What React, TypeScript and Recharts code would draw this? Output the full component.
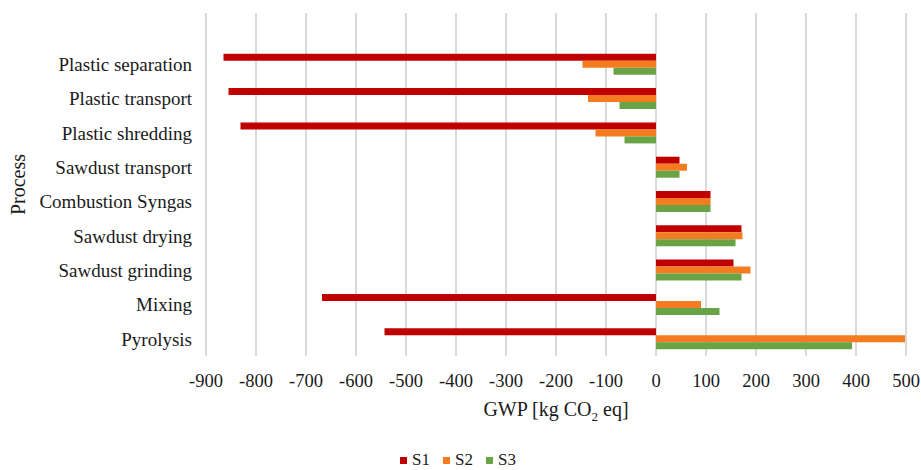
import React from "react"
import {
  BarChart,
  Bar,
  XAxis,
  YAxis,
  CartesianGrid,
  Legend,
  Label
} from "recharts"

// ── Data ──────────────────────────────────────────────────────────────────────
// The first (blank) row mirrors the empty category slot at the top of the plot.

const processes = [
  "",
  "Plastic separation",
  "Plastic transport",
  "Plastic shredding",
  "Sawdust transport",
  "Combustion Syngas",
  "Sawdust drying",
  "Sawdust grinding",
  "Mixing",
  "Pyrolysis"
]

const s1 = [null, -865, -855, -831, 47, 109, 171, 155, -668, -543]
const s2 = [null, -147, -136, -121, 62, 109, 173, 189, 90, 498]
const s3 = [null, -85, -73, -63, 47, 109, 159, 171, 127, 392]

const xTicks = [-900, -800, -700, -600, -500, -400, -300, -200, -100, 0, 100, 200, 300, 400, 500]

const data = processes.map((process, i) => ({
  process,
  S1: s1[i],
  S2: s2[i],
  S3: s3[i]
}))

// ── Style ─────────────────────────────────────────────────────────────────────

const COLORS = {
  S1: "#C00000",
  S2: "#F47B20",
  S3: "#6AA345",
  grid: "#d9d9d9",
  text: "#1a1a1a"
}

const FONT = "Liberation Serif, Noto Serif, DejaVu Serif, serif"

const xTitle = (props: any) => {
  const { viewBox } = props
  const cx = viewBox.x + viewBox.width / 2
  const y = viewBox.y + 60
  return (
    <text x={cx} y={y} textAnchor="middle" fontFamily={FONT} fontSize={20} fill={COLORS.text}>
      <tspan>GWP [kg CO</tspan>
      <tspan fontSize={13} dy={5}>2</tspan>
      <tspan dy={-5}> eq]</tspan>
    </text>
  )
}

const yTitle = (props: any) => {
  const { viewBox } = props
  const cy = viewBox.y + viewBox.height / 2
  const x = 25
  return (
    <text
      x={x}
      y={cy}
      transform={`rotate(-90, ${x}, ${cy})`}
      textAnchor="middle"
      fontFamily={FONT}
      fontSize={20}
      fill={COLORS.text}
    >
      Process
    </text>
  )
}

const renderLegend = (props: any) => {
  const { payload } = props
  return (
    <div style={{ display: "flex", justifyContent: "center", gap: 13, fontFamily: FONT, fontSize: 17, lineHeight: "20px", color: COLORS.text, paddingLeft: 10 }}>
      {payload.map((entry: any) => (
        <span key={entry.value} style={{ display: "inline-flex", alignItems: "center", gap: 5 }}>
          <span style={{ width: 7, height: 7, background: entry.color, display: "inline-block" }} />
          {entry.value}
        </span>
      ))}
    </div>
  )
}

export default function App() {
  return (
    <div style={{ position: "absolute", left: 0, top: 0, background: "#fff" }}>
      <style>{`body { margin: 0; }`}</style>
      <BarChart
        width={921}
        height={470}
        data={data}
        layout="vertical"
        margin={{ top: 13, right: 15, bottom: 24, left: 0 }}
        barCategoryGap="19%"
        barGap={0}
      >
        <CartesianGrid vertical horizontal={false} stroke={COLORS.grid} strokeWidth={2} />
        <XAxis
          type="number"
          domain={[-900, 500]}
          ticks={xTicks}
          interval={0}
          axisLine={false}
          tickLine={false}
          tickSize={6}
          tickMargin={12}
          height={70}
          tick={{ fontFamily: FONT, fontSize: 18.5, fill: COLORS.text }}
        >
          <Label content={xTitle} />
        </XAxis>
        <YAxis
          type="category"
          dataKey="process"
          width={206}
          axisLine={false}
          tickLine={false}
          tickSize={6}
          tickMargin={8}
          interval={0}
          tick={{ fontFamily: FONT, fontSize: 19, fill: COLORS.text }}
        >
          <Label content={yTitle} />
        </YAxis>
        <Legend
          content={renderLegend}
          verticalAlign="bottom"
          wrapperStyle={{ bottom: 0, height: 20 }}
        />
        <Bar dataKey="S1" fill={COLORS.S1} isAnimationActive={false} />
        <Bar dataKey="S2" fill={COLORS.S2} isAnimationActive={false} />
        <Bar dataKey="S3" fill={COLORS.S3} isAnimationActive={false} />
      </BarChart>
    </div>
  )
}
